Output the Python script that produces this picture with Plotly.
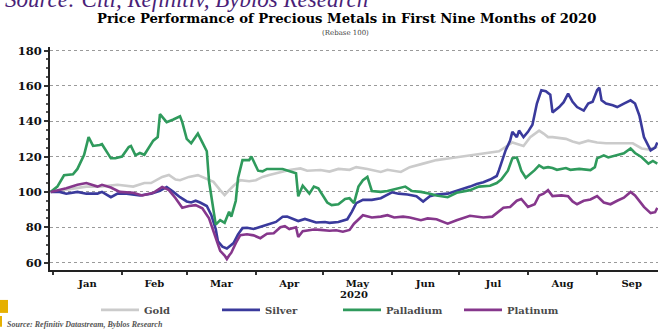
import pandas as pd
import plotly.graph_objects as go

# ---- data (days since 2020-01-01, rebased index values) ----
gold_days = [-1, 5, 10, 15, 21, 29, 36, 41, 44, 49, 52, 55, 57, 61, 65, 67, 72, 75, 77, 79, 81, 84, 88, 91, 94, 97,
             102, 106, 111, 114, 120, 124, 128, 133, 136, 141, 147, 150, 156, 160, 166, 172, 178, 184, 190, 196, 200,
             206, 211, 214, 216, 218, 220, 222, 224, 227, 230, 233, 236, 240, 244, 248, 252, 256, 260, 264, 267, 271]
gold_vals = [100, 101, 102, 103, 103, 104, 103, 105, 105, 108.5, 109.6, 107, 106.6, 108.5, 109.5, 108.5, 105.7, 101,
             98.2, 101, 103.5, 106.6, 106, 106.6, 108.5, 109.5, 111.3, 112.4, 113.3, 112, 112.4, 111.5, 113, 112.5,
             114, 113, 111.3, 112.5, 111.3, 114, 116, 118, 119, 120, 121, 122, 123, 128, 126, 131, 133, 134.7, 133,
             131, 131, 130.5, 130, 128.5, 127.5, 129, 128, 127.5, 127.5, 127.5, 127.5, 124.6, 124, 125.5]

silver_days = [-1, 3, 6, 11, 15, 20, 22, 26, 29, 33, 39, 44, 48, 51, 54, 57, 60, 62, 64, 66, 69, 71, 73, 74, 76, 78,
               81, 83, 85, 87, 90, 93, 96, 100, 103, 105, 108, 110, 113, 118, 122, 124, 128, 132, 134, 136, 139, 143,
               147, 150, 152, 155, 159, 163, 166, 169, 172, 177, 181, 187, 190, 193, 196, 199, 200, 203, 205, 206,
               208, 209, 211, 213, 215, 217, 219, 221, 223, 224, 227, 229, 231, 233, 235, 238, 240, 242, 244, 245,
               246, 248, 251, 253, 256, 259, 261, 263, 265, 268, 270, 271]
silver_vals = [100, 100, 99, 100, 99, 99, 100, 97, 99, 99, 98, 99, 100.6, 102.8, 100, 97, 94.6, 94, 95, 94, 92, 87,
               79, 72, 69, 68, 71, 76, 79.5, 79.7, 79, 80, 81.4, 83, 85.9, 86, 84.5, 83.5, 84.7, 82.7, 83, 82.5, 83,
               84.5, 88.7, 93.6, 95.5, 95.5, 96.4, 98.5, 99.8, 99, 98.5, 97.5, 94.5, 97.6, 98.5, 99, 100.5, 103,
               104.5, 105.5, 107, 109, 112.3, 123.6, 129, 134, 131, 134.7, 131, 134, 138, 150, 157.5, 157, 155, 145,
               148, 150.8, 155.6, 151, 148, 146, 150, 151, 157.5, 159, 151.8, 150, 149, 148, 150, 151.8, 150, 143,
               131, 123.5, 125, 128]

palladium_days = [-1, 2, 5, 9, 11, 14, 16, 18, 21, 22, 26, 28, 31, 34, 35, 37, 39, 41, 45, 47, 48, 51, 54, 57, 58,
                  60, 62, 65, 67, 69, 70, 73, 75, 77, 79, 80, 82, 83, 85, 88, 89, 92, 94, 96, 103, 108, 109, 110, 112,
                  115, 117, 119, 123, 125, 128, 131, 133, 135, 137, 139, 141, 143, 147, 150, 154, 158, 161, 165, 169,
                  172, 177, 181, 187, 191, 196, 199, 201, 204, 206, 208, 209, 210, 212, 215, 216, 218, 220, 222, 224,
                  226, 230, 232, 236, 241, 243, 244, 247, 249, 253, 256, 259, 261, 264, 267, 269, 271]
palladium_vals = [100, 103, 109.4, 110, 113, 121, 131, 126, 126.5, 127, 119, 119, 120, 125.4, 126, 120.7, 122, 121,
                  129, 131, 144, 139.5, 141, 142.8, 139.5, 130, 127.5, 133, 128, 123, 106, 81.5, 84, 82.5, 88.7, 86,
                  95, 107.7, 118, 118, 120, 112, 111.6, 113, 113, 111, 110.5, 97.5, 103.5, 99, 103, 102, 94, 92.5, 93,
                  96, 96.4, 93.6, 103, 106.6, 108.5, 100.5, 100, 100.5, 101.8, 103, 100.5, 100, 99, 98, 97, 99.5, 101,
                  103, 103.5, 105, 107, 112, 119, 119.5, 116, 112, 108, 111, 112.3, 115, 113.5, 114, 113.5, 112.5,
                  113.5, 112.5, 113, 112.3, 114, 119, 120.7, 119.5, 120.7, 121.8, 124.6, 122, 119.6, 116, 117.5, 116]

platinum_days = [-1, 3, 6, 11, 15, 20, 22, 26, 30, 36, 40, 45, 49, 52, 55, 58, 61, 64, 67, 70, 73, 75, 77, 78, 79,
                 80, 82, 84, 87, 90, 93, 96, 99, 102, 104, 106, 109, 110, 112, 117, 120, 124, 127, 130, 133, 135, 139,
                 143, 147, 150, 153, 157, 160, 165, 168, 172, 177, 181, 187, 190, 193, 197, 199, 202, 205, 208, 210,
                 213, 216, 218, 220, 222, 224, 228, 231, 233, 235, 238, 241, 244, 247, 250, 253, 256, 259, 261, 265,
                 268, 270, 271]
platinum_vals = [100, 101, 102, 104, 105, 103, 104, 102.5, 100, 99.5, 98, 99.5, 102.8, 101, 96.4, 91, 92, 92.5, 90.7,
                 85, 74, 66.6, 64, 62, 64, 65.6, 71, 75.5, 76, 75.4, 73.8, 76.3, 76.6, 80, 80.6, 79, 80, 74.5, 77.8,
                 78.7, 78.5, 78, 78.3, 77.5, 78.5, 82, 86.8, 85.5, 86, 86.8, 85.5, 86, 85.5, 84, 85, 84.5, 82, 84,
                 86.5, 86, 85.5, 86, 88, 91, 91.5, 95, 96, 91.5, 93, 98, 99, 101, 97.6, 98, 97.5, 94.6, 93, 95, 95.7,
                 97.6, 94, 93, 95, 96.7, 100, 98, 91.5, 88, 88.5, 91]

series_names = ["Gold", "Silver", "Palladium", "Platinum"]
series_colors = ["#cbcbcb", "#3a3a9c", "#2f9a5c", "#86378c"]
y_ticks = [60, 80, 100, 120, 140, 160, 180]

base = pd.Timestamp("2020-01-01")


def to_dates(days):
    return [base + pd.Timedelta(days=d) for d in days]


W, H = 658, 331
L, R, T, B = 50, 0, 46.5, 61
PW, PH = W - L - R, H - T - B


def px(xp):
    return (xp - L) / PW


def py(yp):
    return (H - B - yp) / PH


fig = go.Figure()
for name, color, d, v in [
    (series_names[0], series_colors[0], gold_days, gold_vals),
    (series_names[1], series_colors[1], silver_days, silver_vals),
    (series_names[2], series_colors[2], palladium_days, palladium_vals),
    (series_names[3], series_colors[3], platinum_days, platinum_vals),
]:
    fig.add_trace(go.Scatter(x=to_dates(d), y=v, name=name, mode="lines",
                             line=dict(color=color, width=2.6, shape="linear")))

fig.update_layout(
    width=W, height=H,
    margin=dict(l=L, r=R, t=T, b=B, pad=0),
    paper_bgcolor="white", plot_bgcolor="white",
    showlegend=True,
    legend=dict(orientation="h", x=px(96), y=py(310), xanchor="left", yanchor="middle",
                font=dict(family="DejaVu Serif", weight="bold", size=10, color="#4a4a4a"),
                entrywidth=68, entrywidthmode="pixels",
                itemwidth=38, tracegroupgap=0, bgcolor="rgba(0,0,0,0)"),
    xaxis=dict(
        type="date",
        range=[base + pd.Timedelta(days=-1.3), base + pd.Timedelta(days=271.3)],
        dtick="M1", tick0="2020-01-01", tickformat="%b", ticklabelmode="period",
        showgrid=False, showline=True, linecolor="#222", linewidth=2,
        ticks="outside", ticklen=3, tickcolor="#333", tickwidth=1.5,
        tickfont=dict(family="DejaVu Serif", weight="bold", size=10, color="#111"),
        title=dict(text="2020", standoff=3,
                   font=dict(family="DejaVu Serif", weight="bold", size=10, color="#111")),
        zeroline=False,
    ),
    yaxis=dict(
        range=[55.8, 182], tickvals=y_ticks,
        showgrid=True, gridcolor="#9a9a9a", griddash="dot", gridwidth=1,
        showline=True, linecolor="#222", linewidth=2,
        ticks="outside", ticklen=4, tickcolor="#333", tickwidth=1.5,
        minor=dict(ticks="outside", ticklen=2, dtick=5, tickcolor="#555", showgrid=False),
        tickfont=dict(family="DejaVu Serif", weight="bold", size=11.5, color="#111"),
        zeroline=False,
    ),
    annotations=[
        dict(text="Source: Citi, Refinitiv, Byblos Research", xref="paper", yref="paper",
             x=px(3), y=py(13), xanchor="left", yanchor="bottom", showarrow=False,
             font=dict(family="Liberation Serif", style="italic", size=23, color="#4a1f78")),
        dict(text="Price Performance of Precious Metals in First Nine Months of 2020", xref="paper", yref="paper",
             x=px(346), y=py(17.5), xanchor="center", yanchor="middle", showarrow=False,
             font=dict(family="DejaVu Serif", weight="bold", size=13.2, color="#000")),
        dict(text="(Rebase 100)", xref="paper", yref="paper",
             x=px(345), y=py(32), xanchor="center", yanchor="middle", showarrow=False,
             font=dict(family="DejaVu Serif", size=7, color="#444")),
        dict(text="Source: Refinitiv Datastream, Byblos Research", xref="paper", yref="paper",
             x=px(5), y=py(325), xanchor="left", yanchor="middle", showarrow=False,
             font=dict(family="Liberation Serif", style="italic", weight="bold", size=8, color="#555")),
    ],
    shapes=[
        dict(type="rect", xref="paper", yref="paper", x0=px(0), x1=px(8), y0=py(300), y1=py(313),
             fillcolor="#e6b000", line=dict(width=0), layer="above"),
        dict(type="rect", xref="paper", yref="paper", x0=px(0), x1=px(2), y0=py(316), y1=py(327),
             fillcolor="#e6b000", line=dict(width=0), layer="above"),
    ],
)

fig.write_html("out.html")
